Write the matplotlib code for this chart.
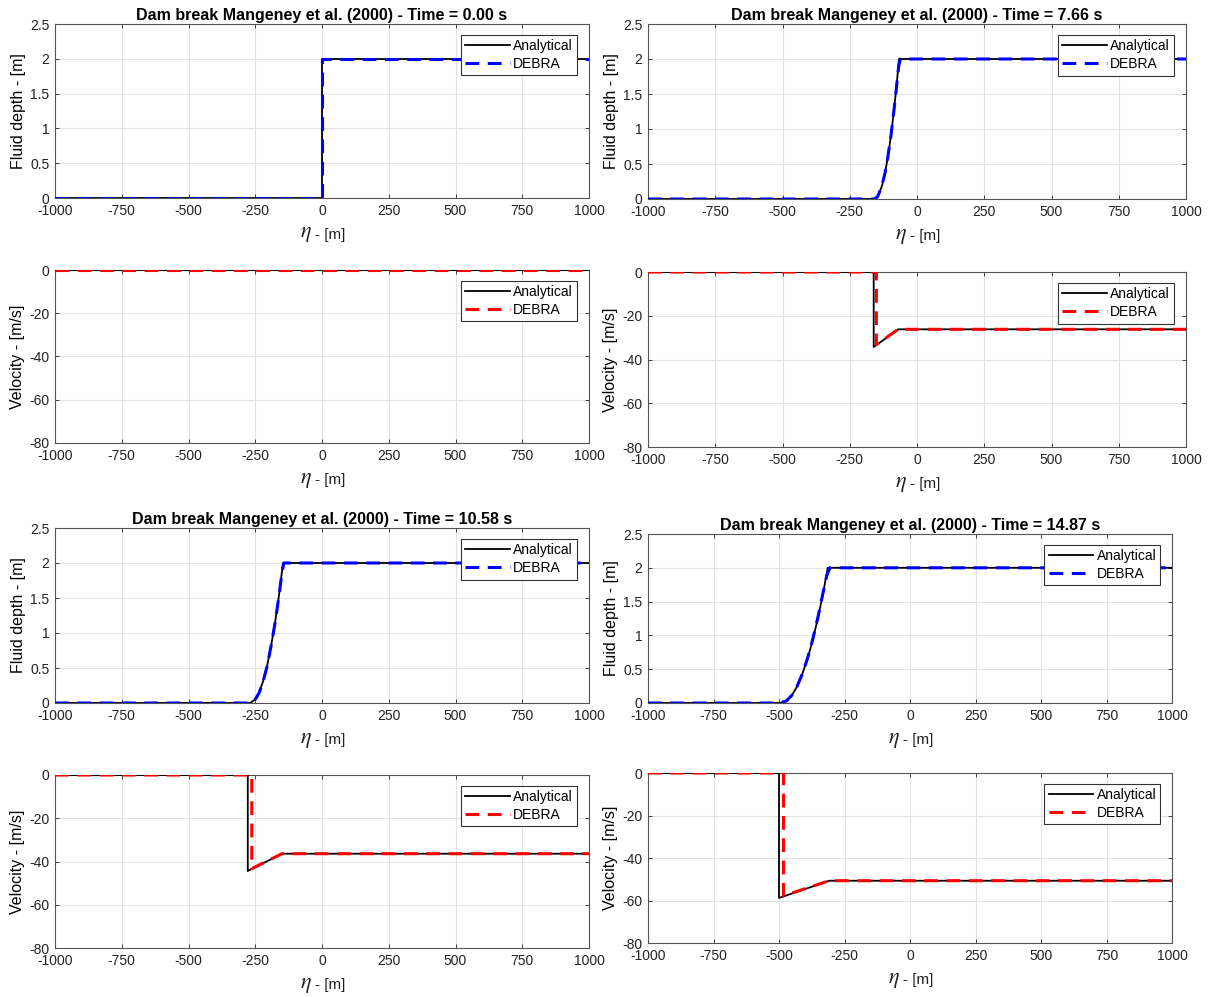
import matplotlib
matplotlib.use("Agg")
import matplotlib.pyplot as plt

plt.rcParams['font.family'] = ['Liberation Sans', 'DejaVu Sans']
plt.rcParams['mathtext.fontset'] = 'stix'

# Snapshot times [s]
times = [0.00, 7.66, 10.58, 14.87]

# Fluid depth, analytical solution (eta [m], h [m])
depth_ana_x = [
    [-1000, 0, 0, 1000],
    [-1000, -158, -145, -130, -118, -107, -96, -87, -80, -73, -67, 1000],
    [-1000, -269, -250, -235, -220, -205, -190, -175, -160, -146, 1000],
    [-1000, -494, -470, -450, -430, -410, -390, -370, -350, -330, -314, 1000],
]
depth_ana_h = [
    [0, 0, 2, 2],
    [0, 0, 0.04, 0.19, 0.39, 0.63, 0.93, 1.22, 1.47, 1.74, 2.0, 2.0],
    [0, 0, 0.05, 0.15, 0.32, 0.54, 0.83, 1.17, 1.57, 2.0, 2.0],
    [0, 0, 0.04, 0.12, 0.25, 0.44, 0.67, 0.95, 1.28, 1.66, 2.0, 2.0],
]

# Fluid depth, DEBRA simulation
depth_deb_x = [
    [-1000, 0, 0, 1000],
    [-1000, -160, -147, -132, -119, -108, -97, -88, -80, -73, -68, -62, 1000],
    [-1000, -271, -252, -236, -221, -206, -191, -176, -161, -150, -143, 1000],
    [-1000, -497, -472, -452, -432, -412, -392, -372, -352, -332, -318, -306, 1000],
]
depth_deb_h = [
    [0, 0, 2, 2],
    [0, 0, 0.03, 0.17, 0.37, 0.61, 0.9, 1.19, 1.46, 1.72, 1.9, 2.0, 2.0],
    [0, 0, 0.04, 0.14, 0.3, 0.52, 0.81, 1.14, 1.53, 1.86, 2.0, 2.0],
    [0, 0, 0.03, 0.11, 0.24, 0.42, 0.65, 0.93, 1.26, 1.63, 1.88, 2.0, 2.0],
]

# Velocity, analytical solution (eta [m], u [m/s])
vel_ana_x = [
    [-1000, 1000],
    [-1000, -161, -161, -70, 1000],
    [-1000, -278, -278, -150, 1000],
    [-1000, -500, -500, -308, 1000],
]
vel_ana_u = [
    [0, 0],
    [0, 0, -34.3, -26.2, -26.2],
    [0, 0, -44.4, -36.4, -36.4],
    [0, 0, -58.8, -50.7, -50.7],
]

# Velocity, DEBRA simulation
vel_deb_x = [
    [-1000, 1000],
    [-1000, -151, -151, -70, 1000],
    [-1000, -263, -263, -150, 1000],
    [-1000, -483, -483, -308, 1000],
]
vel_deb_u = [
    [0, 0],
    [0, 0, -33.2, -26.2, -26.2],
    [0, 0, -43.3, -36.4, -36.4],
    [0, 0, -57.8, -50.7, -50.7],
]

x_ticks = [-1000, -750, -500, -250, 0, 250, 500, 750, 1000]
depth_ticks = [0, 0.5, 1, 1.5, 2, 2.5]
depth_tick_labels = ['0', '0.5', '1', '1.5', '2', '2.5']
vel_ticks = [-80, -60, -40, -20, 0]

W, H = 1209, 997
fig = plt.figure(figsize=(W / 100, H / 100), dpi=100)


def frac(left, right, top, bottom):
    return [left / W, 1 - bottom / H, (right - left) / W, (bottom - top) / H]


# Pixel boxes of each panel: (left, right, top, bottom)
depth_boxes = [(55, 589, 24, 198), (648, 1186, 24, 199),
               (55, 589, 528, 703), (648, 1172, 534, 703)]
vel_boxes = [(55, 589, 270, 443), (648, 1186, 272, 447),
             (55, 589, 775, 948), (648, 1172, 773, 943)]

spine_col = '#555555'
grid_col = '#e3e3e3'


def style_axes(ax):
    ax.set_xlim(-1000, 1000)
    ax.set_xticks(x_ticks)
    ax.set_xticklabels([str(v) for v in x_ticks])
    ax.grid(True, color=grid_col, linewidth=0.8)
    ax.set_axisbelow(True)
    ax.tick_params(direction='in', length=3, width=0.6, colors='#222222',
                   labelsize=10, top=True, right=True)
    ax.tick_params(axis='x', pad=4.5)
    ax.tick_params(axis='y', pad=4)
    for sp in ax.spines.values():
        sp.set_color(spine_col)
        sp.set_linewidth(0.8)
    # x label: large italic eta followed by the unit
    ax.annotate(r'$\eta$', xy=(0.5, 0), xycoords='axes fraction',
                xytext=(-10, -36), textcoords='offset pixels',
                ha='right', va='center', fontsize=16, color='#222222')
    ax.annotate('- [m]', xy=(0.5, 0), xycoords='axes fraction',
                xytext=(-7, -37), textcoords='offset pixels',
                ha='left', va='center', fontsize=11, color='#222222')


def add_legend(ax):
    leg = ax.legend(loc='upper right', bbox_to_anchor=(0.978, 0.937),
                    borderaxespad=0, fontsize=10, handlelength=3.2,
                    handletextpad=0.25, labelspacing=0.3, borderpad=0.3,
                    fancybox=False, framealpha=1)
    leg.get_frame().set_edgecolor('#333333')
    leg.get_frame().set_linewidth(0.8)


for i, t in enumerate(times):
    axd = fig.add_axes(frac(*depth_boxes[i]))
    axd.plot(depth_ana_x[i], depth_ana_h[i], color='black', lw=1.3,
             label='Analytical', zorder=3)
    axd.plot(depth_deb_x[i], depth_deb_h[i], color='#0000ff', lw=2.2,
             ls=(0, (4.5, 2.8)), label='DEBRA', zorder=4)
    axd.set_ylim(0, 2.5)
    axd.set_yticks(depth_ticks)
    axd.set_yticklabels(depth_tick_labels)
    style_axes(axd)
    axd.set_ylabel('Fluid depth - [m]', fontsize=11.5, labelpad=3)
    axd.set_title('Dam break Mangeney et al. (2000) - Time = %.2f s' % t,
                  fontsize=11.5, fontweight='bold', pad=3)
    add_legend(axd)

    axv = fig.add_axes(frac(*vel_boxes[i]))
    axv.plot(vel_ana_x[i], vel_ana_u[i], color='black', lw=1.3,
             label='Analytical', zorder=3)
    axv.plot(vel_deb_x[i], vel_deb_u[i], color='#ff0000', lw=2.2,
             ls=(0, (4.5, 2.8)), label='DEBRA', zorder=4)
    axv.set_ylim(-80, 0)
    axv.set_yticks(vel_ticks)
    axv.set_yticklabels([str(v) for v in vel_ticks])
    style_axes(axv)
    axv.set_ylabel('Velocity - [m/s]', fontsize=11.5, labelpad=3)
    add_legend(axv)

fig.savefig('out.png', dpi=100)
